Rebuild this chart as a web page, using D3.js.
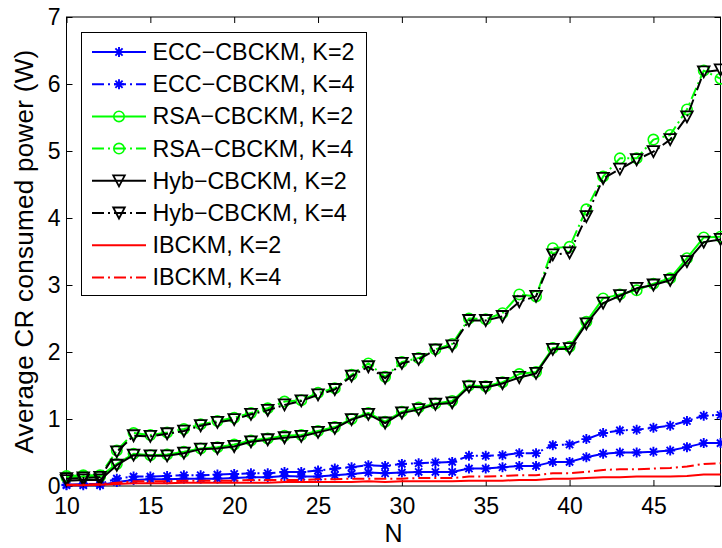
<!DOCTYPE html>
<html>
<head>
<meta charset="utf-8">
<script src="https://cdn.jsdelivr.net/npm/d3@7/dist/d3.min.js"></script>
<style>
  html, body { margin: 0; padding: 0; background: #fff; }
  svg { display: block; }
  text { font-family: "Liberation Sans", Arial, Helvetica, sans-serif; fill: #000; }
</style>
</head>
<body>
<svg id="chart" width="722" height="548"></svg>
<script>
// Number of users N
const nValues = d3.range(10, 50);

// Average CR consumed power (W) per scheme
const eccK2 = [0.01,0.01,0.01,0.06,0.09,0.10,0.10,0.11,0.11,0.11,0.12,0.13,0.13,0.15,0.14,0.14,0.16,0.18,0.20,0.19,
               0.20,0.21,0.21,0.21,0.26,0.26,0.28,0.30,0.30,0.36,0.36,0.43,0.48,0.50,0.50,0.51,0.53,0.58,0.64,0.64];
const eccK4 = [0.02,0.03,0.03,0.11,0.14,0.14,0.15,0.16,0.16,0.17,0.18,0.19,0.19,0.21,0.21,0.23,0.26,0.28,0.31,0.30,
               0.33,0.34,0.35,0.36,0.45,0.45,0.46,0.49,0.49,0.61,0.62,0.70,0.79,0.83,0.84,0.87,0.90,0.97,1.05,1.06];
const rsaK2 = [0.13,0.14,0.14,0.33,0.48,0.46,0.47,0.51,0.56,0.58,0.62,0.68,0.71,0.75,0.76,0.82,0.88,1.00,1.09,0.96,
               1.11,1.17,1.23,1.27,1.50,1.49,1.55,1.67,1.70,2.06,2.08,2.45,2.80,2.86,2.92,3.02,3.10,3.40,3.71,3.72];
const rsaK4 = [0.15,0.16,0.16,0.53,0.79,0.76,0.80,0.85,0.92,0.97,1.02,1.09,1.16,1.26,1.28,1.39,1.46,1.66,1.83,1.63,
               1.85,1.91,2.04,2.12,2.50,2.49,2.58,2.86,2.83,3.55,3.57,4.13,4.62,4.89,4.89,5.17,5.24,5.62,6.20,6.08];
const hybK2 = [0.08,0.09,0.09,0.31,0.46,0.45,0.45,0.49,0.55,0.56,0.59,0.66,0.69,0.72,0.74,0.80,0.86,0.99,1.07,0.94,
               1.09,1.14,1.22,1.24,1.48,1.47,1.53,1.62,1.68,2.04,2.05,2.42,2.73,2.84,2.95,3.00,3.07,3.35,3.64,3.68];
const hybK4 = [0.11,0.12,0.13,0.51,0.75,0.74,0.78,0.82,0.90,0.95,0.99,1.07,1.13,1.21,1.27,1.36,1.44,1.64,1.78,1.61,
               1.83,1.89,2.03,2.09,2.47,2.47,2.53,2.75,2.83,3.45,3.48,4.02,4.59,4.73,4.87,4.99,5.17,5.51,6.18,6.21];
const ibK2  = [0.01,0.01,0.02,0.03,0.04,0.04,0.04,0.05,0.05,0.05,0.05,0.05,0.05,0.06,0.06,0.06,0.06,0.06,0.07,0.06,
               0.07,0.07,0.07,0.07,0.08,0.08,0.08,0.09,0.09,0.11,0.11,0.12,0.13,0.13,0.14,0.14,0.14,0.15,0.17,0.17];
const ibK4  = [0.02,0.02,0.03,0.05,0.07,0.07,0.07,0.08,0.08,0.08,0.08,0.09,0.09,0.09,0.09,0.10,0.10,0.11,0.11,0.11,
               0.11,0.12,0.12,0.12,0.14,0.14,0.15,0.16,0.16,0.19,0.19,0.21,0.24,0.25,0.25,0.26,0.27,0.29,0.33,0.34];

const seriesNames = ["ECC\u2212CBCKM, K=2", "ECC\u2212CBCKM, K=4", "RSA\u2212CBCKM, K=2", "RSA\u2212CBCKM, K=4",
                     "Hyb\u2212CBCKM, K=2", "Hyb\u2212CBCKM, K=4", "IBCKM, K=2", "IBCKM, K=4"];
const seriesValues = [eccK2, eccK4, rsaK2, rsaK4, hybK2, hybK4, ibK2, ibK4];

const xTicks = [10, 15, 20, 25, 30, 35, 40, 45];
const yTicks = [0, 1, 2, 3, 4, 5, 6, 7];

// Styling per series
const DASHDOT = "12,4,2,4";
const styles = [
  { color: "#0000ff", dash: null,    marker: "star" },
  { color: "#0000ff", dash: DASHDOT, marker: "star" },
  { color: "#00ff00", dash: null,    marker: "circle" },
  { color: "#00ff00", dash: DASHDOT, marker: "circle" },
  { color: "#000000", dash: null,    marker: "tri" },
  { color: "#000000", dash: DASHDOT, marker: "tri" },
  { color: "#ff0000", dash: null,    marker: null },
  { color: "#ff0000", dash: DASHDOT, marker: null }
];

const svg = d3.select("#chart");
const L = 66.5, R = 720.5, T = 17, B = 486;

const x = d3.scaleLinear().domain([10, 49]).range([L, R]);
const y = d3.scaleLinear().domain([0, 7]).range([B, T]);

// Axes with inward ticks on all four sides
const tickFont = "23px";
const gx = svg.append("g").attr("transform", `translate(0,${B})`)
  .call(d3.axisBottom(x).tickValues(xTicks).tickFormat(d3.format("d")).tickSizeInner(-6).tickSizeOuter(0).tickPadding(12));
const gxTop = svg.append("g").attr("transform", `translate(0,${T})`)
  .call(d3.axisTop(x).tickValues(xTicks).tickFormat("").tickSizeInner(-6).tickSizeOuter(0));
const gy = svg.append("g").attr("transform", `translate(${L},0)`)
  .call(d3.axisLeft(y).tickValues(yTicks).tickFormat(d3.format("d")).tickSizeInner(-6).tickSizeOuter(0).tickPadding(6));
const gyRight = svg.append("g").attr("transform", `translate(${R},0)`)
  .call(d3.axisRight(y).tickValues(yTicks).tickFormat("").tickSizeInner(-6).tickSizeOuter(0));

[gx, gxTop, gy, gyRight].forEach(g => {
  g.select(".domain").remove();
  g.selectAll(".tick line").attr("stroke", "#000").attr("stroke-width", 1);
  g.selectAll(".tick text").style("font-size", tickFont)
    .style("font-family", '"Liberation Sans", Arial, sans-serif');
});

// Axis frame
svg.append("rect")
  .attr("x", L).attr("y", T).attr("width", R - L).attr("height", B - T)
  .attr("fill", "none").attr("stroke", "#000").attr("stroke-width", 1);

// Axis titles
svg.append("text")
  .attr("x", (L + R) / 2).attr("y", 542)
  .attr("text-anchor", "middle").style("font-size", "25px").text("N");
svg.append("text")
  .attr("transform", `translate(33,${(T + B) / 2}) rotate(-90)`)
  .attr("text-anchor", "middle").style("font-size", "26px")
  .style("letter-spacing", "0.3px")
  .text("Average CR consumed power (W)");

// Marker drawing
function drawMarker(g, type, color, cx, cy) {
  if (type === "star") {
    const s = 5, d = s * 0.72;
    g.append("path")
      .attr("d", `M${cx - s},${cy}L${cx + s},${cy}M${cx},${cy - s}L${cx},${cy + s}` +
                 `M${cx - d},${cy - d}L${cx + d},${cy + d}M${cx - d},${cy + d}L${cx + d},${cy - d}`)
      .attr("stroke", color).attr("stroke-width", 1.9).attr("fill", "none");
  } else if (type === "circle") {
    g.append("circle").attr("cx", cx).attr("cy", cy).attr("r", 5.2)
      .attr("stroke", color).attr("stroke-width", 1.6).attr("fill", "none");
  } else if (type === "tri") {
    const w = 5.8, h = 5.5;
    g.append("path")
      .attr("d", `M${cx - w},${cy - h}L${cx + w},${cy - h}L${cx},${cy + h}Z`)
      .attr("stroke", color).attr("stroke-width", 1.8).attr("fill", "none")
      .attr("stroke-linejoin", "miter");
  }
}

const line = d3.line().x((d, i) => x(nValues[i])).y(d => y(d));

const plot = svg.append("g");
seriesValues.forEach((vals, k) => {
  const st = styles[k];
  const g = plot.append("g");
  g.append("path")
    .attr("d", line(vals))
    .attr("fill", "none")
    .attr("stroke", st.color)
    .attr("stroke-width", 2)
    .attr("stroke-dasharray", st.dash)
    .attr("stroke-linejoin", "round");
  if (st.marker) {
    vals.forEach((v, i) => drawMarker(g, st.marker, st.color, x(nValues[i]), y(v)));
  }
});

// Legend
const lg = svg.append("g");
lg.append("rect")
  .attr("x", 81.5).attr("y", 32.5).attr("width", 285).attr("height", 263)
  .attr("fill", "#fff").attr("stroke", "#000").attr("stroke-width", 1);
seriesNames.forEach((name, k) => {
  const st = styles[k];
  const cy = 52 + k * 32.2;
  lg.append("line")
    .attr("x1", 92).attr("x2", 146).attr("y1", cy).attr("y2", cy)
    .attr("stroke", st.color).attr("stroke-width", 2)
    .attr("stroke-dasharray", st.dash);
  if (st.marker) drawMarker(lg, st.marker, st.color, 119, cy);
  lg.append("text")
    .attr("x", 152.5).attr("y", cy + 8)
    .style("font-size", "23.3px")
    .text(name);
});
</script>
</body>
</html>
